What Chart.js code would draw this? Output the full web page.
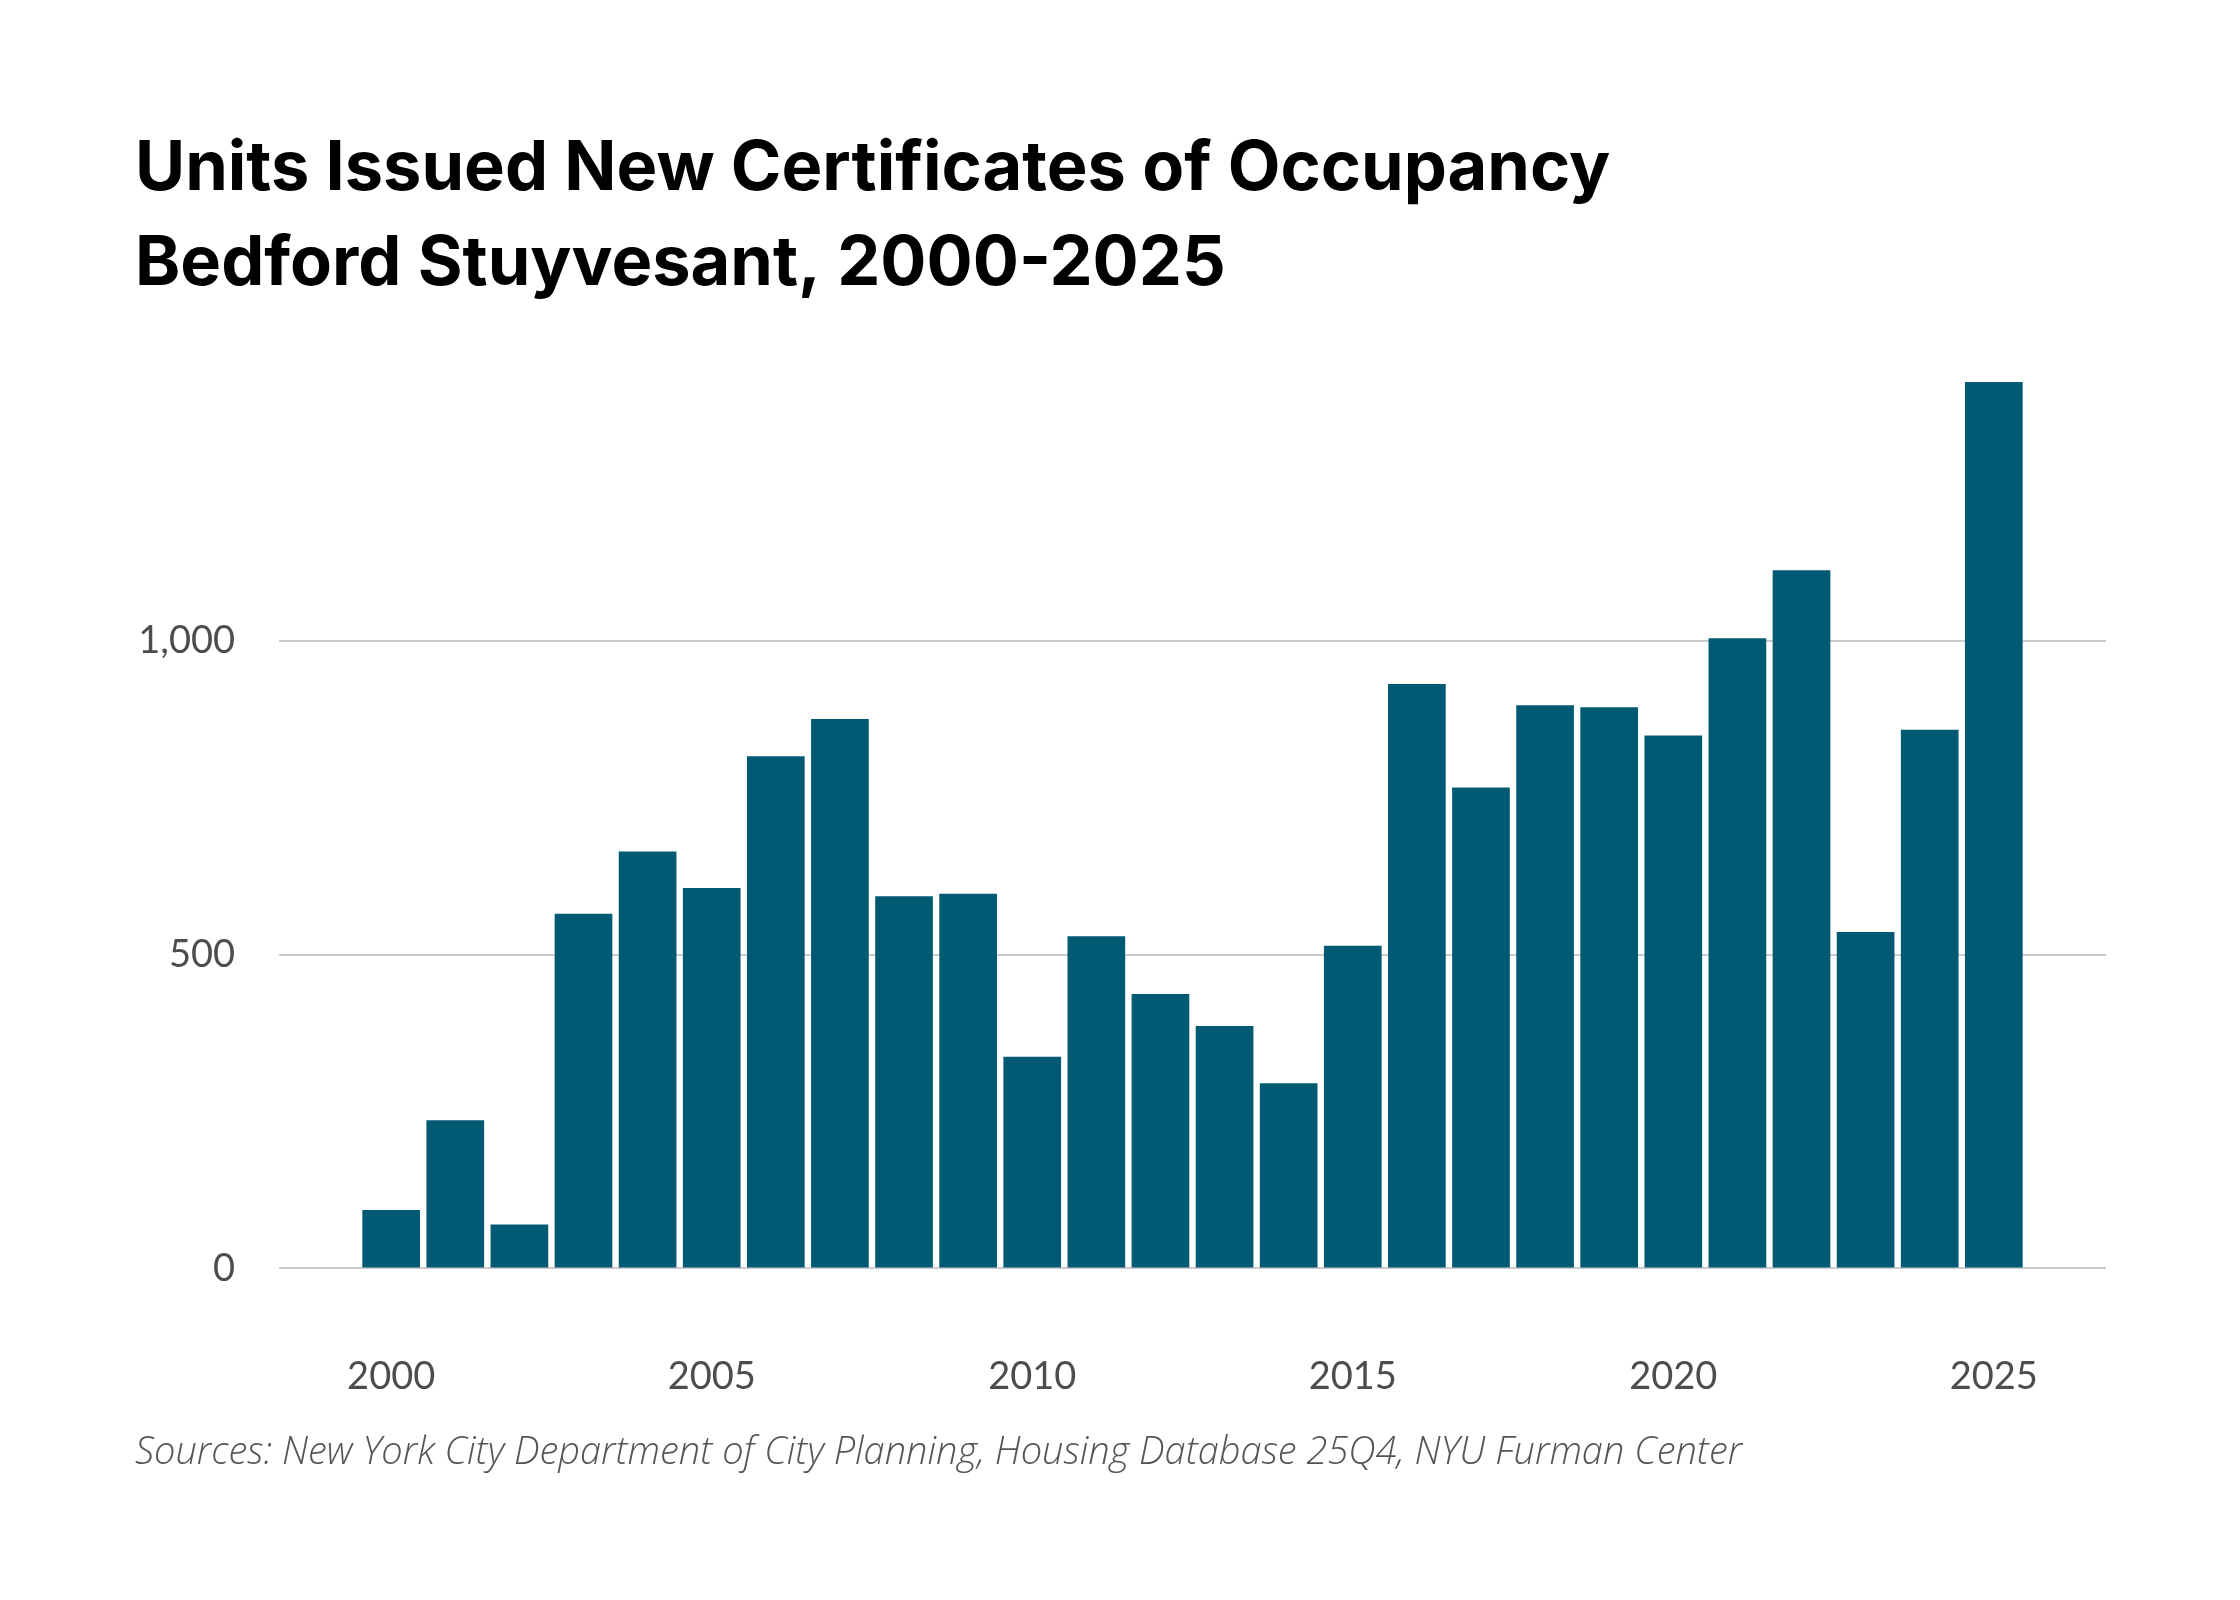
<!DOCTYPE html>
<html><head><meta charset="utf-8">
<script src="https://cdn.jsdelivr.net/npm/chart.js@4.4.1/dist/chart.umd.min.js"></script>
<style>html,body{margin:0;padding:0;background:#fff;} canvas{display:block;}</style>
</head><body>
<canvas id="c" width="2240" height="1600"></canvas>
<script>
const years = [2000,2001,2002,2003,2004,2005,2006,2007,2008,2009,2010,2011,2012,2013,2014,2015,2016,2017,2018,2019,2020,2021,2022,2023,2024,2025];
const units = [93,236,70,565,664,606,816,875,593,597,337,529,437,386,295,514,931,766,897,894,849,1004,1112,536,858,1412];
const xTickYears = [2000,2005,2010,2015,2020,2025];
const yTickValues = [0,500,1000];
const titleLines = ['Units Issued New Certificates of Occupancy','Bedford Stuyvesant, 2000-2025'];
const sourceText = 'Sources: New York City Department of City Planning, Housing Database 25Q4, NYU Furman Center';

const ctx = document.getElementById('c').getContext('2d');
new Chart(ctx, {
  type: 'bar',
  data: {
    datasets: [{
      data: years.map((y, i) => ({x: y, y: units[i]})),
      backgroundColor: '#005a73',
      borderWidth: 0,
      barPercentage: 0.9,
      categoryPercentage: 1
    }]
  },
  options: {
    responsive: false,
    animation: false,
    devicePixelRatio: 1,
    layout: {padding: {left: 135, right: 134, top: 0, bottom: 0}},
    plugins: {
      legend: {display: false},
      tooltip: {enabled: false},
      title: {
        display: true, text: titleLines, align: 'start', color: '#000',
        font: {family: 'Inter', weight: 'bold', size: 68.5, lineHeight: 95/68.5},
        padding: {top: 122, bottom: 70}
      },
      subtitle: {
        display: true, position: 'bottom', align: 'start', text: sourceText, color: '#555',
        font: {family: 'Open Sans', style: 'italic', weight: 300, size: 38, lineHeight: 1.2},
        padding: {top: 36, bottom: 124}
      }
    },
    scales: {
      x: {
        type: 'linear', min: 1998.25, max: 2026.75, offset: false,
        grid: {display: false, offset: false, drawTicks: false},
        border: {display: false},
        afterBuildTicks: a => { a.ticks = xTickYears.map(v => ({value: v})); },
        afterFit: a => { a.height = 126; },
        ticks: {color: '#4d4d4d', font: {family: 'Lato', size: 38}, padding: 86, maxRotation: 0, autoSkip: false, callback: v => String(v)}
      },
      y: {
        min: 0, max: Math.max(...units),
        grid: {color: '#cccccc', lineWidth: 2, drawTicks: false},
        border: {display: false},
        afterBuildTicks: a => { a.ticks = yTickValues.map(v => ({value: v})); },
        afterFit: a => { a.width = 144; },
        ticks: {padding: 44, color: '#4d4d4d', font: {family: 'Lato', size: 38}, callback: v => Number(v).toLocaleString('en-US')}
      }
    }
  }
});
</script>
</body></html>
